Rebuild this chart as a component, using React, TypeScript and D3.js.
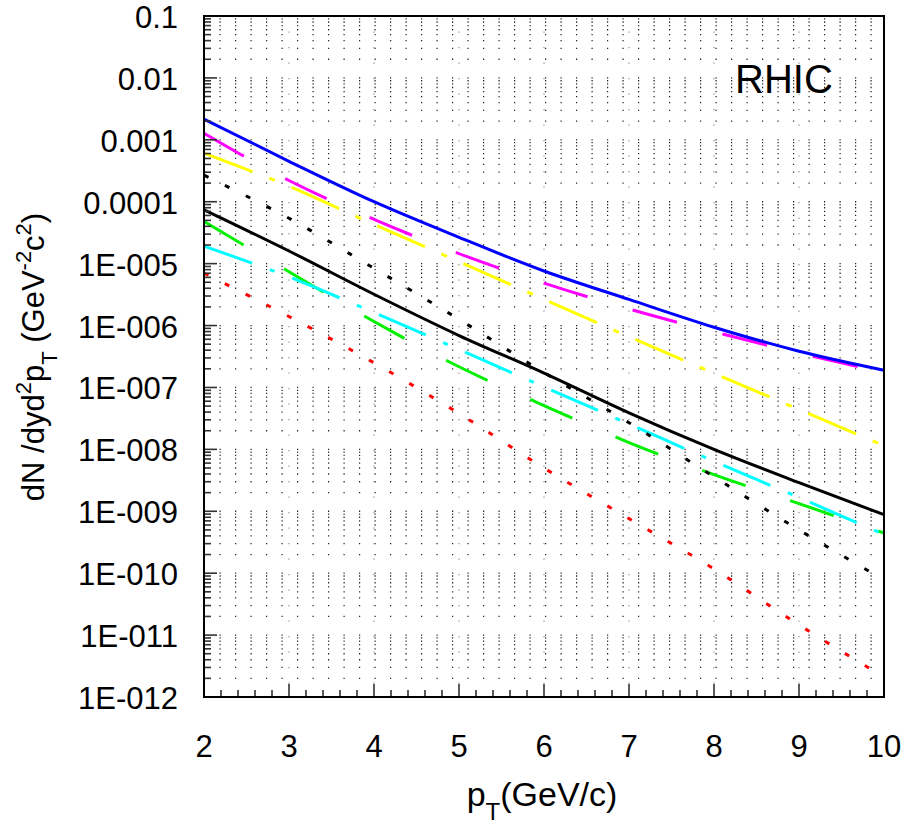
import React from 'react';
import * as d3 from 'd3';

// ---- data ----
const pT = [2, 3, 4, 5, 6, 7, 8, 9, 10];
const blueSolid = [2.16e-3, 4.5e-4, 1.0e-4, 2.66e-5, 7.6e-6, 2.64e-6, 9.4e-7, 3.85e-7, 1.9e-7];
const magentaDash = [1.28e-3, 2.2e-4, 5.2e-5, 1.45e-5, 4.85e-6, 1.85e-6, 7.9e-7, 3.6e-7, 1.75e-7];
const yellowDashDot = [6.1e-4, 1.78e-4, 4.3e-5, 1.08e-5, 2.65e-6, 6.6e-7, 1.7e-7, 4.4e-8, 1.15e-8];
const blackDotted = [2.68e-4, 5.4e-5, 8.4e-6, 1.26e-6, 1.74e-7, 2.7e-8, 3.6e-9, 5.0e-10, 7.8e-11];
const blackSolid = [7.4e-5, 1.6e-5, 3.2e-6, 6.9e-7, 1.71e-7, 3.9e-8, 1.0e-8, 2.9e-9, 8.8e-10];
const greenDash = [4.8e-5, 7.4e-6, 1.16e-6, 2.16e-7, 5.1e-8, 1.29e-8, 3.9e-9, 1.33e-9, 4.45e-10];
const cyanDashDot = [1.92e-5, 6.1e-6, 1.62e-6, 4.1e-7, 1.02e-7, 2.57e-8, 6.4e-9, 1.67e-9, 4.2e-10];
const redDotted = [7.0e-6, 1.4e-6, 2.5e-7, 3.8e-8, 5.0e-9, 7.6e-10, 1.17e-10, 1.46e-11, 2.1e-12];

const xTickValues = [2, 3, 4, 5, 6, 7, 8, 9, 10];
const xTickLabels = ['2', '3', '4', '5', '6', '7', '8', '9', '10'];
const yTickValues = [1e-1, 1e-2, 1e-3, 1e-4, 1e-5, 1e-6, 1e-7, 1e-8, 1e-9, 1e-10, 1e-11, 1e-12];
const yTickLabels = ['0.1', '0.01', '0.001', '0.0001', '1E-005', '1E-006', '1E-007', '1E-008', '1E-009', '1E-010', '1E-011', '1E-012'];

const FONT = '"Liberation Sans", Arial, Helvetica, sans-serif';

export default function App() {
  const W = 908, H = 828;
  const L = 204, R = 884, T = 16, B = 697;
  const x = d3.scaleLinear().domain([2, 10]).range([L, R]);
  const y = d3.scaleLog().domain([1e-12, 0.1]).range([B, T]);
  const line = d3.line<number>()
    .x((_, i) => x(pT[i]))
    .y((d) => y(d))
    .curve(d3.curveMonotoneX);

  const series = [
    { v: redDotted, color: '#ff0000', dash: '5 18.3' },
    { v: greenDash, color: '#00f000', dash: '46 47' },
    { v: cyanDashDot, color: '#00ffff', dash: '51 19 5 19' },
    { v: blackDotted, color: '#000000', dash: '5 18.3' },
    { v: yellowDashDot, color: '#ffff00', dash: '52 18 6 18' },
    { v: magentaDash, color: '#ff00ff', dash: '46 47' },
    { v: blackSolid, color: '#000000', dash: null },
    { v: blueSolid, color: '#0000ff', dash: null },
  ];

  const logRows: number[] = [];
  for (let e = -12; e <= -2; e++) {
    for (let k = 1; k <= 9; k++) logRows.push(k * Math.pow(10, e));
  }
  const minorRows = logRows.filter((v) => {
    const m = v / Math.pow(10, Math.floor(Math.log10(v) + 1e-9));
    return Math.abs(m - 1) > 1e-6;
  });
  const xMinor = d3.range(2, 10.0001, 0.2).filter((v) => Math.abs(v - Math.round(v)) > 1e-6);

  return (
    <div style={{ position: 'absolute', left: 0, top: 0 }}>
      <svg width={W} height={H} style={{ display: 'block', background: '#fff' }}>
        <rect x={0} y={0} width={W} height={H} fill="#fff" />
        <g>
          {logRows.map((v, i) => (
            <line key={'h' + i} x1={L} x2={R} y1={y(v)} y2={y(v)}
              stroke="#222" strokeWidth={1.3} strokeDasharray="1.2 14.3" />
          ))}
        </g>
        <g>
          {xTickValues.filter((v) => v > 2 && v < 10).map((v, i) => (
            <line key={'v' + i} x1={x(v)} x2={x(v)} y1={T} y2={B}
              stroke="#999" strokeWidth={1.3} strokeDasharray="1.2 14.3" />
          ))}
        </g>
        <g fill="none">
          {series.map((s, i) => (
            <path key={'s' + i} d={line(s.v) || ''} stroke={s.color} strokeWidth={3}
              strokeDasharray={s.dash || undefined} />
          ))}
        </g>
        <g stroke="#333" strokeWidth={1.6}>
          {xTickValues.map((v, i) => (
            <line key={'xt' + i} x1={x(v)} x2={x(v)} y1={B} y2={B - 13} />
          ))}
          {xMinor.map((v, i) => (
            <line key={'xm' + i} x1={x(v)} x2={x(v)} y1={B} y2={B - 7} />
          ))}
          {yTickValues.map((v, i) => (
            <line key={'yt' + i} x1={L} x2={L + 13} y1={y(v)} y2={y(v)} />
          ))}
          {minorRows.map((v, i) => (
            <line key={'ym' + i} x1={L} x2={L + 7} y1={y(v)} y2={y(v)} />
          ))}
        </g>
        <rect x={L} y={T} width={R - L} height={B - T} fill="none" stroke="#000" strokeWidth={2} />
        <g fontFamily={FONT} fontSize={31} fill="#000">
          {xTickValues.map((v, i) => (
            <text key={'xl' + i} x={x(v)} y={757} textAnchor="middle">{xTickLabels[i]}</text>
          ))}
          {yTickValues.map((v, i) => (
            <text key={'yl' + i} x={178} y={y(v) + 12} textAnchor="end">{yTickLabels[i]}</text>
          ))}
        </g>
        <text x={542} y={806} textAnchor="middle" fontFamily={FONT} fontSize={34} fill="#000">
          p<tspan fontSize={24} dy={14}>T</tspan><tspan dy={-14}>(GeV/c)</tspan>
        </text>
        <text transform="translate(44,357) rotate(-90)" textAnchor="middle" fontFamily={FONT} fontSize={31} fill="#000">
          dN /dyd<tspan fontSize={22} dy={-13}>2</tspan><tspan dy={13}>p</tspan><tspan fontSize={22} dy={13}>T</tspan><tspan dy={-13}> (GeV</tspan><tspan fontSize={22} dy={-13}>-2</tspan><tspan dy={13}>c</tspan><tspan fontSize={22} dy={-13}>2</tspan><tspan dy={13}>)</tspan>
        </text>
        <text x={735} y={93} fontFamily={FONT} fontSize={40} fill="#000">RHIC</text>
      </svg>
    </div>
  );
}
